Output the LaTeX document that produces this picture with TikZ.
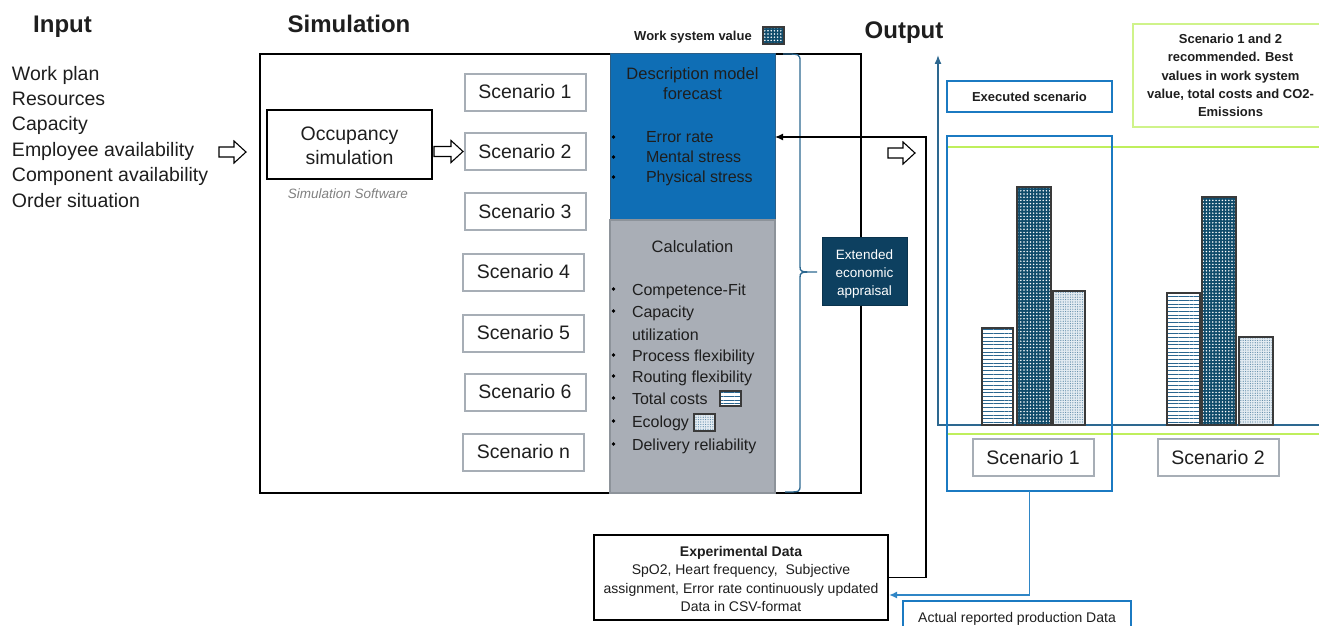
\documentclass[tikz,border=0pt]{standalone}
\usepackage{fontspec}
\setmainfont{Liberation Sans}
\usetikzlibrary{arrows.meta,patterns.meta,calc}
\definecolor{txtc}{HTML}{1E1E1E}
\definecolor{dblue}{HTML}{0F6EB5}
\definecolor{dblueb}{HTML}{2B5E86}
\definecolor{greyf}{HTML}{A9AEB6}
\definecolor{greyb}{HTML}{8D939A}
\definecolor{navy}{HTML}{0D4060}
\definecolor{scb}{HTML}{A7AEB6}
\definecolor{steel}{HTML}{2D6890}
\definecolor{exb}{HTML}{1B7AC2}
\definecolor{lime}{HTML}{BFEF5C}
\definecolor{limeb}{HTML}{CFF38A}
\definecolor{stripec}{HTML}{2A6690}
\definecolor{darkbar}{HTML}{0F4B6A}
\definecolor{lightdot}{HTML}{5A88A6}
\definecolor{lightfill}{HTML}{E4ECF2}
\definecolor{bordc}{HTML}{3A3A3A}
\definecolor{softgrey}{HTML}{808080}
\definecolor{linkblue}{HTML}{2F86C6}
\newcommand{\hollowarrow}[3]{\draw[line width=1.1pt,line join=miter,fill=white] (#1,#3-5) -- (#2-12,#3-5) -- (#2-12,#3-11) -- (#2,#3) -- (#2-12,#3+11) -- (#2-12,#3+5) -- (#1,#3+5) -- cycle;}
\begin{document}
\begin{tikzpicture}[x=1pt,y=-1pt,
  every node/.style={inner sep=0pt,outer sep=0pt,text=txtc},
  title/.style={anchor=base,font=\fontsize{24}{28}\selectfont\bfseries},
  inlist/.style={anchor=base west,font=\fontsize{19.5}{24}\selectfont},
  scen/.style={draw=scb,line width=2pt,minimum width=121pt,minimum height=37pt,font=\fontsize{19.5}{23}\selectfont},
  mid/.style={anchor=base,font=\fontsize{16.5}{20}\selectfont},
  item/.style={anchor=base west,font=\fontsize{16}{20}\selectfont},
  small/.style={anchor=base,font=\fontsize{14}{18}\selectfont},
  smallb/.style={anchor=base,font=\fontsize{13}{17}\selectfont\bfseries},
  stripes/.style={fill=white,postaction={pattern={Lines[distance=3.7pt,line width=1pt]},pattern color=stripec},postaction={draw=bordc,line width=1.1pt}},
  darkdots/.style={fill=darkbar,postaction={pattern={Dots[distance=3.2pt,radius=0.85pt]},pattern color=white},postaction={draw=bordc,line width=1.1pt}},
  lightdots/.style={fill=lightfill,postaction={pattern={Dots[distance=2.4pt,radius=0.6pt]},pattern color=lightdot},postaction={draw=bordc,line width=1.1pt}},
  bul/.style={fill=black},
  feed/.style={draw=linkblue,line width=1.8pt}
]
\useasboundingbox (0,0) rectangle (1319,626);
\clip (0,0) rectangle (1319,626);

% ---------- titles
\node[title] (tin) at (62.5,33) {Input};
\node[title] (tsim) at (349,33) {Simulation};
\node[title] (tout) at (904,38) {Output};

% ---------- input list
\foreach \t [count=\i] in {Work plan,Resources,Capacity,Employee availability,Component availability,Order situation}
  \node[inlist] (in\i) at (12,{80+25.4*(\i-1)}) {\t};
\hollowarrow{219}{246}{152}

% ---------- simulation frame
\node[draw=black,line width=1.2pt,minimum width=601pt,minimum height=439pt] (frame) at (560.5,273.5) {};
\node[draw=black,line width=1.2pt,minimum width=165pt,minimum height=69pt] (occ) at (349.5,144.5) {};
\node[anchor=base,font=\fontsize{19.5}{24}\selectfont] (occ1) at (349.5,140) {Occupancy};
\node[anchor=base,font=\fontsize{19.5}{24}\selectfont] (occ2) at (349.5,164) {simulation};
\node[anchor=base,font=\fontsize{13.5}{16}\selectfont\itshape,text=softgrey] (simsw) at (348,198) {Simulation Software};
\hollowarrow{434}{463}{151.5}

% ---------- scenarios
\node[scen] (s1) at (525,92) {Scenario 1};
\node[scen] (s2) at (525,151.5) {Scenario 2};
\node[scen] (s3) at (525,211.5) {Scenario 3};
\node[scen] (s4) at (523.5,272) {Scenario 4};
\node[scen] (s5) at (523.5,333) {Scenario 5};
\node[scen] (s6) at (525,392) {Scenario 6};
\node[scen] (sn) at (523.5,452) {Scenario n};

% ---------- description model box
\node[fill=dblue,draw=dblueb,line width=1pt,minimum width=165pt,minimum height=166pt] (desc) at (692.5,137) {};
\node[mid] (d1) at (692.5,79) {Description model};
\node[mid] (d2) at (692.5,99) {forecast};
\node[item] (e1) at (646,142) {Error rate};
\node[item] (e2) at (646,162) {Mental stress};
\node[item] (e3) at (646,182) {Physical stress};
\foreach \y in {137,157,177} \fill[bul] (613.5,\y) circle (1.8);

% ---------- calculation box
\node[fill=greyf,draw=greyb,line width=1.5pt,minimum width=165pt,minimum height=273pt] (calc) at (692.5,356.5) {};
\node[mid] (c0) at (692.5,252) {Calculation};
\node[item] (c1) at (632,295) {Competence-Fit};
\node[item] (c2) at (632,317.5) {Capacity};
\node[item] (c3) at (632,340) {utilization};
\node[item] (c4) at (632,361) {Process flexibility};
\node[item] (c5) at (632,382.5) {Routing flexibility};
\node[item] (c6) at (632,404) {Total costs};
\node[item] (c7) at (632,427) {Ecology};
\node[item] (c8) at (632,450) {Delivery reliability};
\foreach \y in {289,311,355,376,398,421,444} \fill[bul] (613.5,\y) circle (1.8);
\path[stripes] (720,391) rectangle (741,406);
\path[lightdots] (694,414) rectangle (715,431);

% ---------- work system value legend
\node[smallb] (wsv) at (693,41) {Work system value};
\path[darkdots] (763,27) rectangle (784,44);

% ---------- brace and extended appraisal
\draw[steel,line width=1.3pt] (783,54) .. controls (800,54) .. (800,62) -- (800,266) .. controls (800,272) .. (817,272)
  .. controls (800,272) .. (800,278) -- (800,485) .. controls (800,492) .. (785,492);
\node[fill=navy,draw=navy!80!black,line width=1pt,minimum width=85pt,minimum height=68pt] (ext) at (864.5,271) {};
\node[anchor=base,font=\fontsize{13.5}{18}\selectfont,text=white] (x1) at (864.5,259) {Extended};
\node[anchor=base,font=\fontsize{13.5}{18}\selectfont,text=white] (x2) at (864.5,277) {economic};
\node[anchor=base,font=\fontsize{13.5}{18}\selectfont,text=white] (x3) at (864.5,295) {appraisal};

% ---------- output chart
\draw[lime,line width=2.5pt] (947,147) -- (1319,147);
\draw[lime,line width=2.5pt] (947,434) -- (1319,434);
\coordinate (ax0) at (1319,425);
\coordinate (axo) at (938,425);
\coordinate (axt) at (938,55);
\draw[steel,line width=1.4pt,-{Latex[length=9pt,width=7pt]}] (ax0) -- (axo) -- (axt);

\path[stripes] (982,328) rectangle (1013,425);
\path[darkdots] (1017,187) rectangle (1051,425);
\path[lightdots] (1053,291) rectangle (1085,425);
\path[stripes] (1167,293) rectangle (1200,425);
\path[darkdots] (1202,197) rectangle (1236,425);
\path[lightdots] (1239,337) rectangle (1273,425);

\node[scen] (o1) at (1033,457.5) {Scenario 1};
\node[scen] (o2) at (1218,457.5) {Scenario 2};

\node[draw=exb,line width=2.5pt,minimum width=165pt,minimum height=355pt] (exec) at (1029.5,313.5) {};
\node[draw=exb,line width=2.5pt,minimum width=165pt,minimum height=31pt] (execl) at (1029.5,96.5) {};
\node[smallb] (exect) at (1029.5,101) {Executed scenario};

\node[draw=limeb,line width=2pt,minimum width=200pt,minimum height=103pt] (rec) at (1233,75.5) {};
\node[smallb] (r1) at (1230.5,44) {Scenario 1 and 2};
\node[smallb] (r2) at (1230.5,62) {recommended. Best};
\node[smallb] (r3) at (1230.5,80) {values in work system};
\node[smallb] (r4) at (1230.5,98) {value, total costs and CO2-};
\node[smallb] (r5) at (1230.5,116) {Emissions};

% ---------- experimental data
\node[draw=black,line width=1.2pt,fill=white,minimum width=294pt,minimum height=85pt] (exp) at (741,577.5) {};
\node[anchor=base,font=\fontsize{14}{18}\selectfont\bfseries] (ex0) at (741,556) {Experimental Data};
\node[small] (ex1) at (741,574) {SpO2, Heart frequency,\ \ Subjective};
\node[small] (ex2) at (741,593) {assignment, Error rate continuously updated};
\node[small] (ex3) at (741,611) {Data in CSV-format};

% ---------- actual production data
\node[draw=exb,line width=2.5pt,fill=white,minimum width=228pt,minimum height=50pt] (act) at (1017,626) {};
\node[small] (actt) at (1017,622) {Actual reported production Data};

% ---------- connectors
\coordinate (up) at (926,137);
\draw[black,line width=1.2pt,-{Latex[length=8pt,width=7pt]}] (exp.east) -| (up) -- (desc.east |- up);
\hollowarrow{888}{915}{153}

\coordinate (bturn) at (1029.5,595);
\coordinate (bin) at (889,595);
\path[feed] (exec.south) -- (bturn);
\path[feed,-{Latex[length=8pt,width=7pt]}] (bturn) -- (bin);
\end{tikzpicture}
\end{document}
